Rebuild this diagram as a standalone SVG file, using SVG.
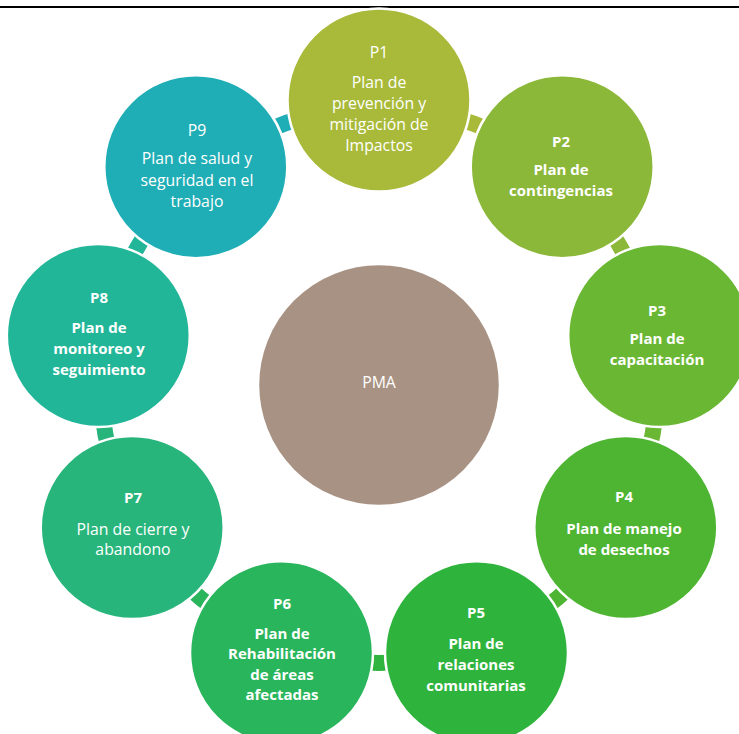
<svg xmlns="http://www.w3.org/2000/svg" width="739" height="734" viewBox="0 0 739 734">
<style>
.n{stroke:#fff;stroke-width:2.5}
.c{fill:none;stroke-width:16;stroke-linecap:butt}
text{font-family:"Open Sans","Liberation Sans",sans-serif;font-size:15.8px;fill:#fff;text-anchor:middle}
.b{font-weight:bold;font-size:15px}
</style>
<rect width="739" height="734" fill="#fff"/>
<line x1="0" y1="7" x2="739" y2="7" stroke="#000" stroke-width="2.2"/>
<g id="connectors">
<path class="c" stroke="#A9BA3A" d="M436.8,113.1 A278,278 0 0 1 509.5,139.6"/>
<path class="c" stroke="#8CB83A" d="M598.1,213.8 A278,278 0 0 1 636.8,280.9"/>
<path class="c" stroke="#6AB734" d="M656.8,394.7 A278,278 0 0 1 643.4,470.9"/>
<path class="c" stroke="#4DB531" d="M585.6,571.0 A278,278 0 0 1 526.3,620.7"/>
<path class="c" stroke="#2EB43F" d="M417.7,660.3 A278,278 0 0 1 340.3,660.3"/>
<path class="c" stroke="#29B55B" d="M231.7,620.7 A278,278 0 0 1 172.4,571.0"/>
<path class="c" stroke="#28B57B" d="M114.6,470.9 A278,278 0 0 1 101.2,394.7"/>
<path class="c" stroke="#22B698" d="M121.2,280.9 A278,278 0 0 1 159.9,213.8"/>
<path class="c" stroke="#1FADB6" d="M248.5,139.6 A278,278 0 0 1 321.2,113.1"/>
</g>
<g id="PMA"><circle cx="379" cy="385" r="121" fill="#A89283" class="n"/><text x="379" y="388">PMA</text></g>
<g id="P1"><circle cx="379" cy="100" r="91.5" fill="#A9BA3A" class="n"/>
<text x="379" y="58">P1</text><text x="379" y="88">Plan de</text><text x="379" y="109">prevención y</text><text x="379" y="130">mitigación de</text><text x="379" y="151">Impactos</text></g>
<g id="P2"><circle cx="562.2" cy="166.7" r="91.5" fill="#8CB83A" class="n"/>
<text class="b" x="561" y="147">P2</text><text class="b" x="561" y="175">Plan de</text><text class="b" x="561" y="196">contingencias</text></g>
<g id="P3"><circle cx="659.7" cy="335.5" r="91.5" fill="#6AB734" class="n"/>
<text class="b" x="657" y="316">P3</text><text class="b" x="657" y="344">Plan de</text><text class="b" x="657" y="365">capacitación</text></g>
<g id="P4"><circle cx="625.8" cy="527.5" r="91.5" fill="#4DB531" class="n"/>
<text class="b" x="624" y="502">P4</text><text class="b" x="624" y="534">Plan de manejo</text><text class="b" x="624" y="555">de desechos</text></g>
<g id="P5"><circle cx="476.5" cy="652.8" r="91.5" fill="#2EB43C" class="n"/>
<text class="b" x="476" y="618">P5</text><text class="b" x="476" y="649">Plan de</text><text class="b" x="476" y="670">relaciones</text><text class="b" x="476" y="691">comunitarias</text></g>
<g id="P6"><circle cx="281.5" cy="652.8" r="91.5" fill="#29B55B" class="n"/>
<text class="b" x="282" y="609">P6</text><text class="b" x="282" y="639">Plan de</text><text class="b" x="282" y="659">Rehabilitación</text><text class="b" x="282" y="680">de áreas</text><text class="b" x="282" y="700">afectadas</text></g>
<g id="P7"><circle cx="132.2" cy="527.5" r="91.5" fill="#28B57B" class="n"/>
<text class="b" x="133" y="503">P7</text><text x="133" y="535">Plan de cierre y</text><text x="133" y="555">abandono</text></g>
<g id="P8"><circle cx="98.3" cy="335.5" r="91.5" fill="#22B698" class="n"/>
<text class="b" x="99" y="303">P8</text><text class="b" x="99" y="333">Plan de</text><text class="b" x="99" y="354">monitoreo y</text><text class="b" x="99" y="375">seguimiento</text></g>
<g id="P9"><circle cx="195.8" cy="166.7" r="91.5" fill="#1FADB6" class="n"/>
<text x="197" y="136">P9</text><text x="197" y="164">Plan de salud y</text><text x="197" y="186">seguridad en el</text><text x="197" y="207">trabajo</text></g>
</svg>
